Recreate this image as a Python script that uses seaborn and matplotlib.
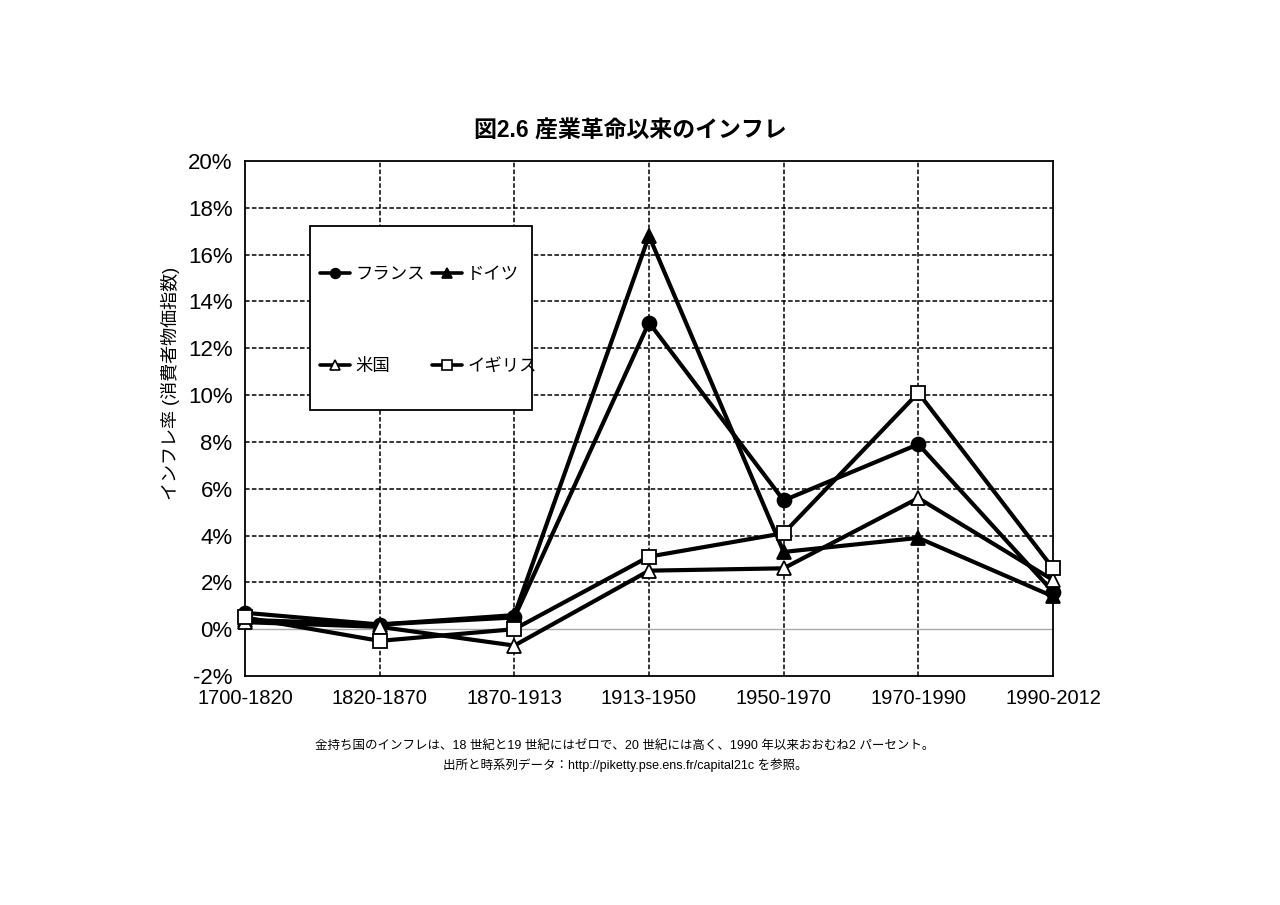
import matplotlib
matplotlib.use("Agg")
import matplotlib.pyplot as plt
import seaborn as sns
import numpy as np
import pandas as pd
from matplotlib.lines import Line2D
from matplotlib.patches import Rectangle
from matplotlib.ticker import FuncFormatter

periods = ["1700-1820", "1820-1870", "1870-1913", "1913-1950", "1950-1970", "1970-1990", "1990-2012"]
france = [0.7, 0.2, 0.5, 13.1, 5.5, 7.9, 1.6]
germany = [0.4, 0.2, 0.6, 16.8, 3.3, 3.9, 1.4]
usa = [0.3, 0.1, -0.7, 2.5, 2.6, 5.6, 2.1]
uk = [0.5, -0.5, 0.0, 3.1, 4.1, 10.1, 2.6]
series_names = ["フランス", "ドイツ", "米国", "イギリス"]
yticks = list(range(-2, 21, 2))

title = "図2.6 産業革命以来のインフレ"
ylabel = "インフレ率 (消費者物価指数)"
caption1 = "金持ち国のインフレは、18 世紀と19 世紀にはゼロで、20 世紀には高く、1990 年以来おおむね2 パーセント。"
caption2 = "出所と時系列データ：http://piketty.pse.ens.fr/capital21c を参照。"

sns.set_theme(style="white")
fam = ["Liberation Sans", "Noto Sans CJK JP", "DejaVu Sans"]
plt.rcParams["font.family"] = fam
for k in ["text.color", "axes.labelcolor", "xtick.color", "ytick.color"]:
    plt.rcParams[k] = "black"

fig = plt.figure(figsize=(12.8, 9.05), dpi=100)
W, H = 1280, 905
L, R, T, B = 245, 1053, 161, 676
ax = fig.add_axes([L / W, 1 - B / H, (R - L) / W, (B - T) / H])

xs = np.arange(len(periods))
styles = [
    (france, "o", "black"),
    (germany, "^", "black"),
    (usa, "^", "white"),
    (uk, "s", "white"),
]
handles = []
for (vals, mk, fc), name in zip(styles, series_names):
    df = pd.DataFrame({"x": xs, "y": vals})
    sns.lineplot(data=df, x="x", y="y", ax=ax, color="black", linewidth=3.0,
                 marker=mk, markersize=9.5 if mk != "o" else 10, markerfacecolor=fc,
                 markeredgecolor="black", markeredgewidth=1.3, zorder=5, clip_on=False)
    handles.append(Line2D([0], [0], color="black", linewidth=2.6, marker=mk,
                          markersize=7, markerfacecolor=fc, markeredgecolor="black",
                          markeredgewidth=1.2))

ax.set_xlim(0, len(periods) - 1)
ax.set_ylim(-2, 20)
ax.set_xticks(xs)
ax.set_xticklabels(periods, fontsize=14.5)
ax.set_yticks(yticks)
ax.yaxis.set_major_formatter(FuncFormatter(lambda v, p: f"{v:.0f}%"))
ax.tick_params(axis="y", labelsize=16, length=5, width=1, color="black", direction="out", pad=4)
ax.tick_params(axis="x", length=0, pad=9)
ax.set_xlabel("")
ax.set_ylabel("")

for x in xs[1:-1]:
    ax.axvline(x, color="black", linestyle=(0, (3, 1.5)), linewidth=1.1, zorder=1)
for yv in yticks:
    if yv == 0:
        ax.axhline(yv, color="#aaaaaa", linewidth=1.0, zorder=1)
    elif -2 < yv < 20:
        ax.axhline(yv, color="black", linestyle=(0, (3, 1.5)), linewidth=1.1, zorder=1)

for s in ax.spines.values():
    s.set_color("black")
    s.set_linewidth(1.3)
    s.set_visible(True)

# legend box
ax.add_patch(Rectangle((310 / W, 1 - 410 / H), (532 - 310) / W, (410 - 226) / H,
                       transform=fig.transFigure, facecolor="white", clip_on=False,
                       edgecolor="black", linewidth=1.3, zorder=6))
order = [0, 2, 1, 3]
leg = ax.legend([handles[i] for i in order], [series_names[i] for i in order],
                ncol=2, frameon=False, fontsize=12.5,
                handlelength=1.75, handletextpad=0.3, columnspacing=0.4,
                labelspacing=4.4, loc="upper left",
                bbox_to_anchor=(311 / W, 1 - 258 / H), bbox_transform=fig.transFigure,
                borderpad=0)
leg.set_zorder(7)

fig.text(630 / W, 1 - 131 / H, title, ha="center", va="center", fontsize=16.5, fontweight="bold")
fig.text(170 / W, 1 - 383 / H, ylabel, ha="center", va="center", rotation=90, fontsize=13)
fig.text(625 / W, 1 - 746 / H, caption1, ha="center", va="center", fontsize=9)
fig.text(625 / W, 1 - 765 / H, caption2, ha="center", va="center", fontsize=9)

fig.savefig("out.png", dpi=100, facecolor="white")
